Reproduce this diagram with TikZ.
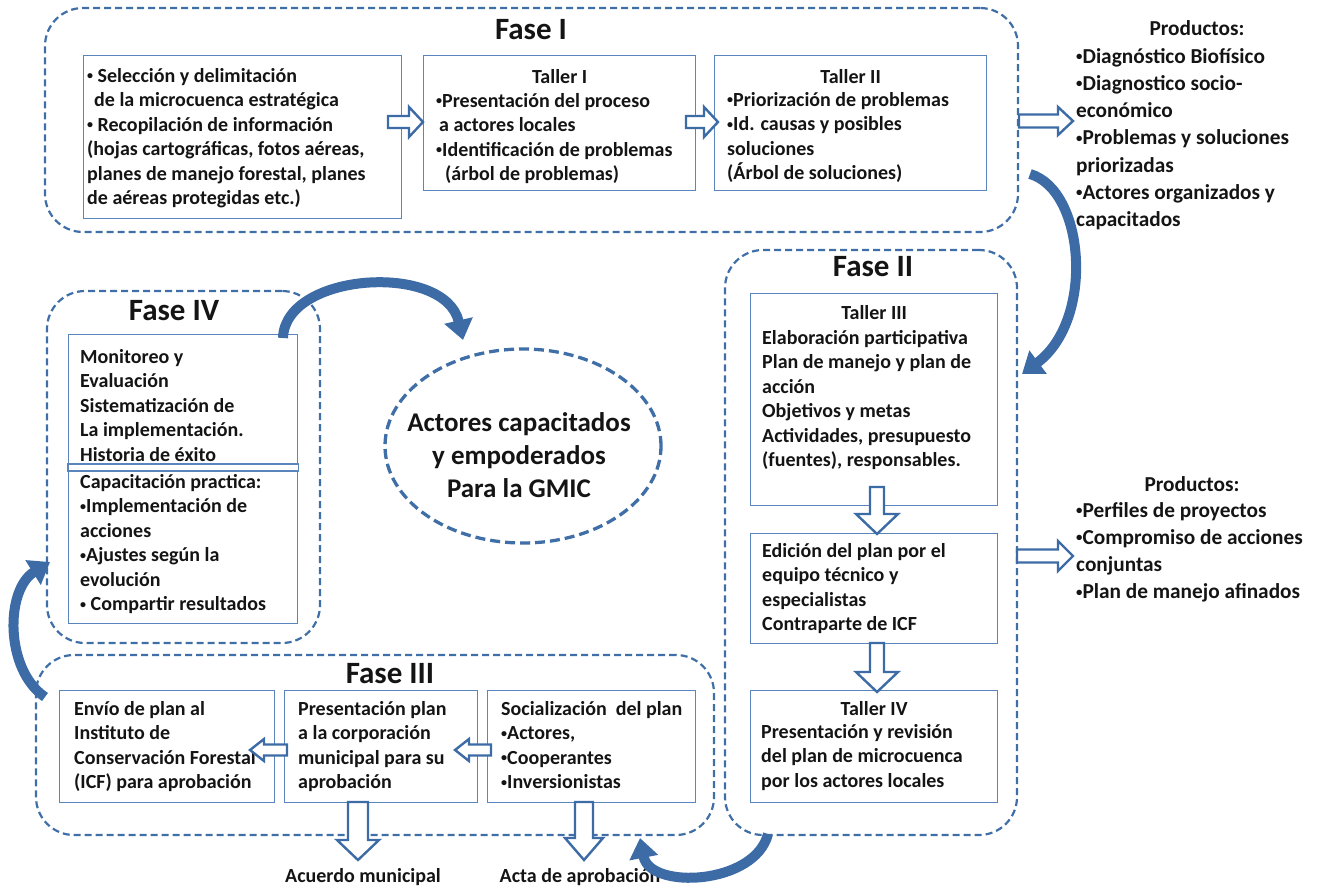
\documentclass[tikz,border=0pt]{standalone}
\usepackage{fontspec}
\setmainfont{Carlito}
\usetikzlibrary{arrows.meta,shapes.geometric,calc}
\definecolor{dashblue}{HTML}{3F6FA6}
\definecolor{boxblue}{HTML}{5A86BD}
\definecolor{arrblue}{HTML}{3C6BA6}
\definecolor{ink}{HTML}{141414}
\newcommand\bxfont{\fontsize{20}{24.5}\selectfont\bfseries}
\newcommand\prfont{\fontsize{21.3}{27.2}\selectfont\bfseries}
\newcommand\ttfont{\fontsize{31}{36}\selectfont\bfseries}
\newcommand\elfont{\fontsize{27}{33}\selectfont\bfseries}
\newcommand\fst{\rule{0pt}{15pt}}
\newcommand\pst{\rule{0pt}{16pt}}
\newcommand\bul{\raisebox{0.12em}{\scalebox{0.6}{•}}}
\begin{document}
\begin{tikzpicture}[x=1pt,y=-1pt,
  phase/.style={draw=dashblue, line width=2.2pt, dash pattern=on 7pt off 4pt, rounded corners=38pt, inner sep=0pt},
  wbox/.style={draw=boxblue, line width=1.3pt, fill=white, inner sep=0pt, anchor=north west},
  body/.style={anchor=north west, inner sep=0pt, align=left, font=\bxfont, text=ink},
  head/.style={anchor=base, inner sep=0pt, font=\bxfont, text=ink},
  prod/.style={anchor=north west, inner sep=0pt, align=left, font=\prfont, text=ink},
  ttl/.style={anchor=base, inner sep=0pt, font=\ttfont, text=ink},
  hollow/.style={draw=arrblue, fill=white, line width=2.4pt, line join=miter},
  curvy/.style={draw=arrblue, line width=10pt, -{Triangle[width=28pt,length=20pt]}},
  pics/barrow/.style args={#1/#2/#3/#4}{code={
    \draw[hollow] (0,-#2) -- ({#1-#4},-#2) -- ({#1-#4},-#3) -- (#1,0) -- ({#1-#4},#3) -- ({#1-#4},#2) -- (0,#2) -- cycle;}}
]
\useasboundingbox (0,0) rectangle (1329,891);

% ---------- phase containers ----------
\node[phase, minimum width=973pt, minimum height=224pt] (f1) at (531.5,120) {};
\node[phase, minimum width=292pt, minimum height=585pt] (f2) at (871,542.5) {};
\node[phase, minimum width=273pt, minimum height=352pt] (f4) at (183.5,467) {};
\node[phase, minimum width=678pt, minimum height=180pt] (f3) at (375,745) {};

\node[ttl] (f1t) at (531,40) {Fase I};
\node[ttl] (f2t) at (873,276) {Fase II};
\node[ttl] (f4t) at (174,320) {Fase IV};
\node[ttl] (f3t) at (390,683) {Fase III};

% ---------- Fase I ----------
\node[wbox, minimum width=318pt, minimum height=163pt] (bA) at (83,55) {};
\node[wbox, minimum width=272pt, minimum height=135pt] (bB) at (423,55) {};
\node[wbox, minimum width=272pt, minimum height=135pt] (bC) at (714,55) {};
\node[body] (tA) at (87,67) {\fst\bul\ Selección y delimitación\\\hspace*{7pt}de la microcuenca estratégica\\\bul\ Recopilación de información\\(hojas cartográficas, fotos aéreas,\\planes de manejo forestal, planes\\de aéreas protegidas etc.)};
\node[head] (hB) at (bB.center |- 0,83) {Taller I};
\node[body] (tB) at (436,92) {\fst\bul Presentación del proceso\\\hspace*{3pt}a actores locales\\\bul Identificación de problemas\\\hspace*{9pt}(árbol de problemas)};
\node[head] (hC) at (bC.center |- 0,83) {Taller II};
\node[body] (tC) at (727,91) {\fst\bul Priorización de problemas\\\bul Id. causas y posibles\\soluciones\\(Árbol de soluciones)};

\pic (a1) at (388,122) {barrow={35/6/15/14}};
\pic (a2) at (686,122) {barrow={32/6/15/14}};
\pic (a3) at (1019,121) {barrow={54/6.5/14/15}};

\node[ttl, font=\prfont] (p1h) at (1197,36) {Productos:};
\node[prod] (p1) at (1076,47) {\pst\bul Diagnóstico Biofísico\\\bul Diagnostico socio-\\económico\\\bul Problemas y soluciones\\priorizadas\\\bul Actores organizados y\\capacitados};

% ---------- Fase II ----------
\node[wbox, minimum width=247pt, minimum height=212pt] (t3) at (750,293) {};
\node[wbox, minimum width=247pt, minimum height=110pt] (ed) at (750,533) {};
\node[wbox, minimum width=247pt, minimum height=112pt] (t4) at (750,690) {};
\node[head] (h3) at (t3.center |- 0,319) {Taller III};
\node[body] (b3) at (762,329) {\fst Elaboración participativa\\Plan de manejo y plan de\\acción\\Objetivos y metas\\Actividades, presupuesto\\(fuentes), responsables.};
\node[body] (bed) at (762,542) {\fst Edición del plan por el\\equipo técnico y\\especialistas\\Contraparte de ICF};
\node[head] (h4) at (t4.center |- 0,715) {Taller IV};
\node[body] (b4) at (761,723) {\fst Presentación y revisión\\del plan de microcuenca\\por los actores locales};

\pic[rotate=-90] (a4) at (877,487) {barrow={47/7/21/20}};
\pic[rotate=-90] (a5) at (877,643) {barrow={49/7/21/20}};
\pic (a6) at (1017,556) {barrow={56/6.5/15/15}};

\node[ttl, font=\prfont] (p2h) at (1192,491) {Productos:};
\node[prod] (p2) at (1076,501) {\pst\bul Perfiles de proyectos\\\bul Compromiso de acciones\\conjuntas\\\bul Plan de manejo afinados};

% ---------- Fase IV ----------
\node[wbox, minimum width=229pt, minimum height=289pt] (m4) at (68,334) {};
\node[body] (m4a) at (80,348) {\fst Monitoreo y\\Evaluación\\Sistematización de\\La implementación.\\Historia de éxito};
\draw[draw=boxblue, line width=1.3pt, fill=white] ($(m4.north west)+(0,130)$) rectangle ($(m4.north east)+(0,137)$);
\node[body] (m4b) at (80,473) {\fst Capacitación practica:\\\bul Implementación de\\acciones\\\bul Ajustes según la\\evolución\\\bul\ Compartir resultados};

\node[draw=dashblue, ellipse, line width=3.3pt, dash pattern=on 10pt off 5pt, minimum width=276pt, minimum height=194pt, inner sep=0pt] (goal) at (523,446) {};
\node[align=center, font=\elfont, text=ink, inner sep=0pt] (goalt) at (519,455) {Actores capacitados\\y empoderados\\Para la GMIC};

% ---------- Fase III ----------
\node[wbox, minimum width=215pt, minimum height=112pt] (env) at (59,690) {};
\node[wbox, minimum width=193pt, minimum height=112pt] (pre) at (284,690) {};
\node[wbox, minimum width=208pt, minimum height=112pt] (soc) at (487,690) {};
\node[body] (benv) at (74,700) {\fst Envío de plan al\\Instituto de\\Conservación Forestal\\(ICF) para aprobación};
\node[body] (bpre) at (298,700) {\fst Presentación plan\\a la corporación\\municipal para su\\aprobación};
\node[body] (bsoc) at (501,700) {\fst Socialización \ del plan\\\bul Actores,\\\bul Cooperantes\\\bul Inversionistas};

\pic[rotate=180] (a7) at (491,750) {barrow={36/5.5/11/14}};
\pic[rotate=180] (a8) at (287,750) {barrow={37/5.5/11/14}};
\pic[rotate=-90] (a9) at (358,802) {barrow={58/10/21/20}};
\pic[rotate=-90] (a10) at (584,802) {barrow={58/9/19/22}};

\node[head] (lab1) at (363,882) {Acuerdo municipal};
\node[head] (lab2) at (580,882) {Acta de aprobación};

% ---------- curved connectors ----------
\coordinate (c1s) at (1030,174);
\coordinate (c1e) at (1022,374);
\draw[curvy] (c1s) .. controls (1085,190) and (1095,320) .. (c1e);
\coordinate (c2s) at (283,338);
\coordinate (c2e) at (463,340);
\draw[curvy] (c2s) .. controls (285,272) and (445,262) .. (c2e);
\coordinate (c3s) at (45,697);
\coordinate (c3e) at (50,562);
\draw[curvy] (c3s) .. controls (5,670) and (5,590) .. (c3e);
\coordinate (c4s) at (768,834);
\coordinate (c4e) at (640,838);
\draw[curvy] (c4s) .. controls (755,885) and (650,890) .. (c4e);
\end{tikzpicture}
\end{document}
